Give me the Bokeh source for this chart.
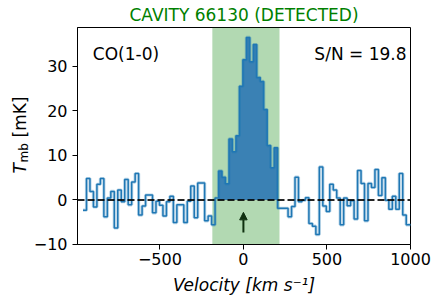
import numpy as np
from bokeh.plotting import figure
from bokeh.layouts import row
from bokeh.models import BoxAnnotation, Span, Label, Arrow, NormalHead, Range1d, FixedTicker
from bokeh.embed import file_html
from bokeh.resources import INLINE

# ---------------- data ----------------
title_text = "CAVITY 66130 (DETECTED)"
line_name = "CO(1-0)"
snr_text = "S/N = 19.8"
channel_width = 20.8          # km/s
first_edge = -960.0           # km/s, left edge of first channel
# brightness temperature per channel [mK]
t_before = [-2.3, 4.8, 1.9, -1.6, 3.5, 4.8, -3.8, 0.4, 1.9, -6.3,
            2.2, -0.4, 4.6, -1.1, 4.0, 5.9, -3.4, -1.4, 1.1, 1.1,
            -2.9, -0.3, -1.2, -3.6, -0.4, 0.8, -5.1, -1.1, -1.1, -5.1,
            -0.3, 3.1, -4.0, 3.8, 3.8, -4.7, -3.6, -5.6, 0.4]
t_line = [6.5, 5.1, 3.6, 13.7, 10.8, 14.4, 25.5, 31.5, 36.5, 31.0,
          34.9, 27.5, 26.6, 20.3, 12.2, 7.2, 11.7]
t_after = [-1.9, -1.9, -1.9, -3.8, -1.5, 5.1, -0.4, -0.1, 0.5, -5.3,
           -5.9, -7.8, 7.4, -1.4, -2.6, 3.5, 2.2, 0.4, -5.6, 0.4,
           -1.3, -0.2, -4.3, 6.6, 3.7, -4.7, 3.7, 2.8, 6.8, 1.0,
           5.0, -0.1, -2.1, 0.8, -2.1, 5.9, -3.4, -5.6, -5.6]
window = [-186.0, 216.0]      # km/s, line window
arrow_v = 0.0
x_ticks = [-500, 0, 500, 1000]
y_ticks = [-10, 0, 10, 20, 30]
x_lim = [-993.0, 1000.0]
y_lim = [-10.02, 38.72]

# ---------------- derived step coords ----------------
T = np.array(t_before + t_line + t_after)
edges = first_edge + channel_width * np.arange(len(T) + 1)
xs = np.repeat(edges, 2)[1:-1]
ys = np.repeat(T, 2)
n0 = len(t_before)
n1 = n0 + len(t_line)
fx = np.repeat(edges[n0:n1 + 1], 2)[1:-1]
fy = np.repeat(T[n0:n1], 2)

FONT = "DejaVu Sans"
TOTAL_W, H = 439, 304
LW = 30                         # width of the y-label strip
W = TOTAL_W - LW
ML, MR, MT, MB = 47, 29, 27, 60

p = figure(width=W, height=H, output_backend="svg", toolbar_location=None,
           x_range=Range1d(*x_lim), y_range=Range1d(*y_lim),
           min_border_left=ML, min_border_right=MR,
           min_border_top=MT, min_border_bottom=MB)
p.background_fill_color = "white"
p.border_fill_color = "white"
p.outline_line_color = "black"
p.outline_line_width = 1
p.outline_line_alpha = 1
p.xgrid.visible = False
p.ygrid.visible = False

p.title.text = title_text
p.title.text_font = FONT
p.title.text_font_size = "17px"
p.title.text_font_style = "normal"
p.title.text_color = "#008000"
p.title.align = "center"
p.title.standoff = 5

for ax in (p.xaxis[0], p.yaxis[0]):
    ax.major_label_text_font = FONT
    ax.major_label_text_font_size = "16px"
    ax.major_label_text_color = "black"
    ax.axis_line_color = "black"
    ax.major_tick_line_color = "black"
    ax.major_tick_in = 0
    ax.major_tick_out = 5
    ax.minor_tick_line_color = None
p.xaxis.ticker = FixedTicker(ticks=x_ticks)
p.yaxis.ticker = FixedTicker(ticks=y_ticks)
p.xaxis.major_label_standoff = 3
p.yaxis.major_label_standoff = 5
p.xaxis.axis_label = "Velocity [km s\u207b\u00b9]"
p.xaxis.axis_label_text_font = FONT
p.xaxis.axis_label_text_font_style = "italic"
p.xaxis.axis_label_text_font_size = "17px"
p.xaxis.axis_label_text_color = "black"
p.xaxis.axis_label_standoff = 7

# line window band
p.add_layout(BoxAnnotation(left=window[0], right=window[1], fill_color="green",
                           fill_alpha=0.3, line_color=None, level="underlay"))
# filled line channels
p.varea(x=fx, y1=0, y2=fy, fill_color="#3a81b4")
# spectrum
p.line(xs, ys, line_color="#1f77b4", line_width=3.2, line_alpha=0.3)
p.line(xs, ys, line_color="#1f77b4", line_width=1.5)
# zero line
p.add_layout(Span(location=0, dimension="width", line_color="black",
                  line_alpha=0.85, line_width=2, line_dash="7 3"))
# arrow
acol = "#0f300f"
p.add_layout(Arrow(x_start=arrow_v, y_start=-7.3, x_end=arrow_v, y_end=-2.8,
                   line_color=acol, line_width=2,
                   end=NormalHead(size=7.5, fill_color=acol, line_color=acol)))

# pixel -> data helpers (page coordinates of the frame)
FL, FR, FT, FB = LW + ML, TOTAL_W - MR, MT, H - MB
def dx(px):
    return x_lim[0] + (px - FL) * (x_lim[1] - x_lim[0]) / (FR - FL)
def dy(py):
    return y_lim[1] - (py - FT) * (y_lim[1] - y_lim[0]) / (FB - FT)

def lab(fig, x, y, text, size="17px", color="black", align="left", style="normal", angle=0.0):
    fig.add_layout(Label(x=x, y=y, text=text, text_font=FONT, text_font_size=size,
                         text_color=color, text_align=align, text_baseline="alphabetic",
                         text_font_style=style, angle=angle))

lab(p, dx(92.3), dy(53.3), line_name)
lab(p, dx(406.0), dy(53.3), snr_text, align="right")

# y-axis label strip: T_mb [mK]; its frame is aligned with the main frame,
# so it shares the main y range
q = figure(width=LW, height=H, output_backend="svg", toolbar_location=None,
           x_range=Range1d(0, LW), y_range=Range1d(*y_lim),
           x_axis_type=None, y_axis_type=None,
           min_border_left=0, min_border_right=0, min_border_top=0, min_border_bottom=0)
q.outline_line_color = None
q.xgrid.visible = False
q.ygrid.visible = False
q.background_fill_color = "white"
q.border_fill_color = "white"
lab(q, 19.5, dy(173.0), "T", style="italic", angle=np.pi / 2)
lab(q, 23.0, dy(162.0), "mb", size="12px", angle=np.pi / 2)
lab(q, 19.5, dy(137.0), "[mK]", angle=np.pi / 2)

layout = row(q, p)
open("out.html", "w").write(file_html(layout, INLINE))
